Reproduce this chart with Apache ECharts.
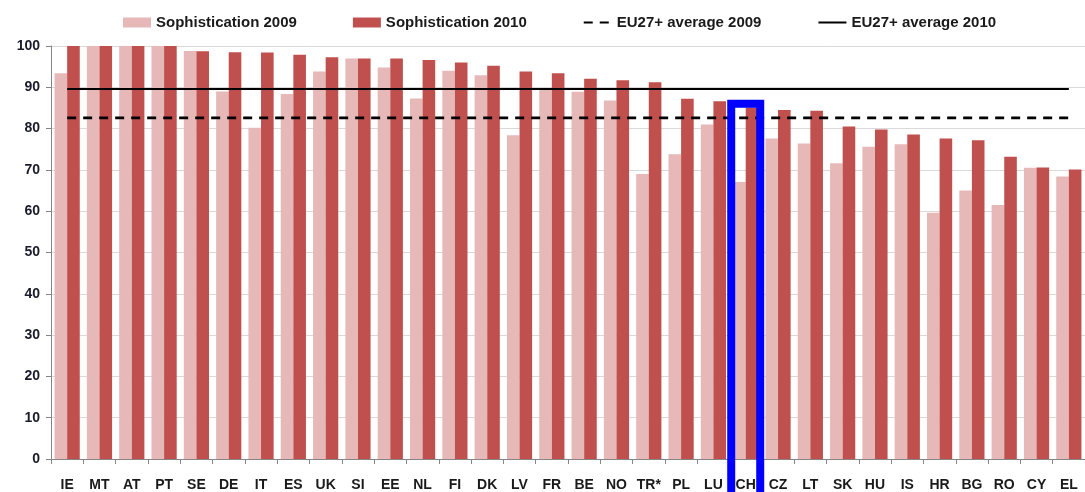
<!DOCTYPE html>
<html>
<head>
<meta charset="utf-8">
<script src="https://cdn.jsdelivr.net/npm/echarts@6/dist/echarts.min.js"></script>
<style>
    html, body { margin: 0; padding: 0; background: #fff; }
    #main { width: 1085px; height: 492px; }
</style>
</head>
<body>
<div id="main"></div>
<script>
/* 数据 */
var categories = ['IE','MT','AT','PT','SE','DE','IT','ES','UK','SI','EE','NL','FI','DK','LV','FR',
                  'BE','NO','TR*','PL','LU','CH','CZ','LT','SK','HU','IS','HR','BG','RO','CY','EL'];

var soph2009 = [93.4,100,100,100,98.8,89.0,80.2,88.4,93.8,97.0,94.8,87.3,94.0,92.9,78.4,89.8,
                88.9,86.8,69.0,73.8,81.0,67.1,77.6,76.4,71.6,75.6,76.2,59.6,65.0,61.5,70.5,68.4];

var soph2010 = [100,100,100,100,98.7,98.5,98.4,97.9,97.3,97.0,97.0,96.6,96.0,95.2,93.8,93.4,
                92.1,91.7,91.2,87.2,86.6,85.1,84.5,84.3,80.5,79.8,78.6,77.6,77.2,73.2,70.6,70.1];

var avg2009 = 82.6;
var avg2010 = 89.6;

var yTicks = [0,10,20,30,40,50,60,70,80,90,100];

// 蓝框标注
var highlightCat = 'CH';
var highlightTop = 86;

var FONT = '"Liberation Sans", Arial, sans-serif';

//平均线: 从第一个类目画到最后一个类目
function avgLine(v){
    return [[categories[0], v], [categories[categories.length - 1], v]];
}

var option = {
    animation: false,
    legend: {
        left: 118,
        top: 10,
        itemWidth: 28,
        itemHeight: 10,
        itemGap: 56,
        textStyle: { fontFamily: FONT, fontWeight: 'bold', fontSize: 15, color: '#1a1a1a' },
        data: [
            { name: 'Sophistication 2009', icon: 'rect' },
            { name: 'Sophistication 2010', icon: 'rect' },
            'EU27+ average 2009',
            'EU27+ average 2010'
        ]
    },
    grid: {
        left: 51,
        top: 46,
        bottom: 33,
        width: 1043
    },
    xAxis: {
        type: 'category',
        data: categories,
        axisLine: { lineStyle: { color: '#868686', width: 1 } },
        axisTick: { show: true, alignWithLabel: false, length: 5, lineStyle: { color: '#868686' } },
        axisLabel: {
            interval: 0,
            margin: 19,
            fontFamily: FONT, fontWeight: 'bold', fontSize: 14, color: '#1a1a1a'
        }
    },
    yAxis: {
        type: 'value',
        min: yTicks[0],
        max: yTicks[yTicks.length - 1],
        interval: 10,
        axisLine: { show: true, lineStyle: { color: '#868686', width: 1 } },
        axisTick: { show: true, length: 5, lineStyle: { color: '#868686' } },
        splitLine: { lineStyle: { color: '#d9d9d9', width: 1 } },
        axisLabel: {
            margin: 11,
            fontFamily: FONT, fontWeight: 'bold', fontSize: 14, color: '#1a1a2a'
        }
    },
    series: [
        {
            name: 'Sophistication 2009',
            type: 'bar',
            data: soph2009,
            barGap: '0%',
            barCategoryGap: '22%',
            itemStyle: { color: '#e6b9b8' }
        },
        {
            name: 'Sophistication 2010',
            type: 'bar',
            data: soph2010,
            barGap: '0%',
            barCategoryGap: '22%',
            itemStyle: { color: '#c0504d' }
        },
        {
            name: 'EU27+ average 2009',
            type: 'line',
            data: avgLine(avg2009),
            symbol: 'none',
            lineStyle: { color: '#000', width: 2.6, type: [9, 7] },
            itemStyle: { color: '#000', opacity: 0 },
            z: 5
        },
        {
            name: 'EU27+ average 2010',
            type: 'line',
            data: avgLine(avg2010),
            symbol: 'none',
            lineStyle: { color: '#000', width: 2, type: 'solid' },
            itemStyle: { color: '#000', opacity: 0 },
            z: 5
        }
    ]
};

var myChart = echarts.init(document.getElementById('main'), null, { renderer: 'canvas' });
myChart.setOption(option);

// 蓝色框: 位置从坐标轴换算
var p = myChart.convertToPixel({ gridIndex: 0 }, [highlightCat, highlightTop]);
myChart.setOption({
    graphic: [{
        type: 'rect',
        z: 100,
        shape: { x: p[0] - 14.5, y: p[1], width: 29, height: 500 },
        style: { fill: 'none', stroke: '#0000ff', lineWidth: 8 }
    }]
});
</script>
</body>
</html>
